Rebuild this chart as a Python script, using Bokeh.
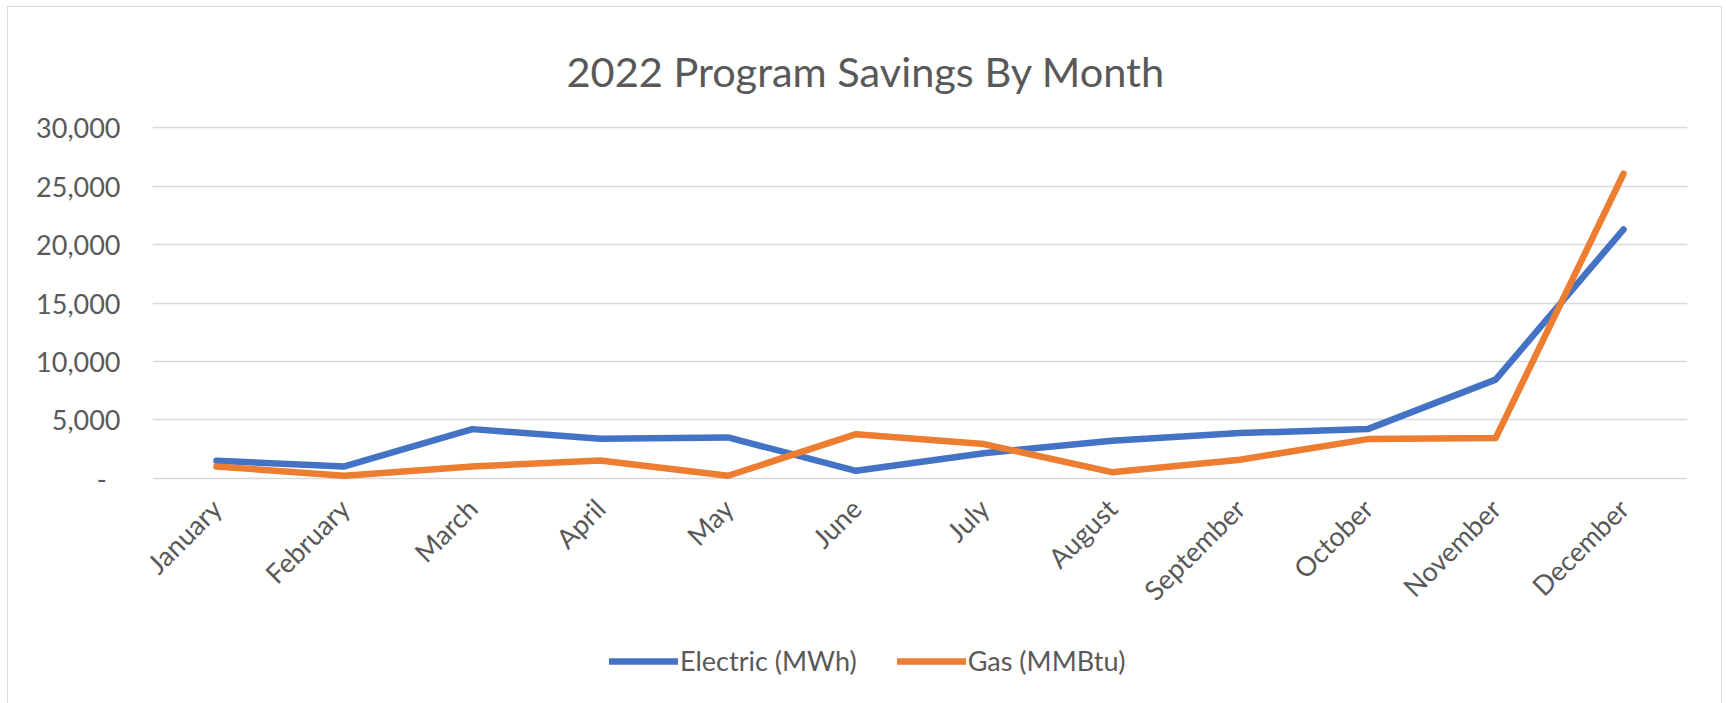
import math
from bokeh.plotting import figure
from bokeh.layouts import column
from bokeh.models import (FactorRange, Range1d, FixedTicker, CustomJSTickFormatter,
                          Legend, LegendItem, Title, ColumnDataSource)
from bokeh.embed import file_html
from bokeh.resources import INLINE

months = ["January", "February", "March", "April", "May", "June", "July",
          "August", "September", "October", "November", "December"]
electric = [1490, 1000, 4200, 3380, 3490, 630, 2140, 3210, 3860, 4200, 8440, 21300]
gas = [1000, 205, 1000, 1520, 205, 3770, 2920, 515, 1580, 3345, 3430, 26070]
y_ticks = [0, 5000, 10000, 15000, 20000, 25000, 30000]
title_text = "2022 Program Savings By Month"
series_names = ["Electric (MWh)", "Gas (MMBtu)"]
colors = ["#4472C4", "#ED7D31"]

FONT = "Lato"
TXT = "#595959"

src = ColumnDataSource(dict(month=months, electric=electric, gas=gas))

# ---------------- main chart ----------------
p = figure(x_range=FactorRange(factors=months), y_range=Range1d(-200, 30200),
           width=1713, height=632, output_backend="svg", toolbar_location=None,
           min_border_left=144, min_border_right=34, min_border_top=118,
           min_border_bottom=159)
p.outline_line_color = None
p.background_fill_color = "white"
p.border_fill_color = "white"

p.title = Title(text=title_text, align="left", offset=414, standoff=59,
                text_font=FONT, text_font_size="41.5px", text_color=TXT,
                text_font_style="normal")

p.xgrid.grid_line_color = None
p.ygrid.grid_line_color = "#D9D9D9"
p.ygrid.grid_line_width = 1.5
p.yaxis.ticker = FixedTicker(ticks=y_ticks)
p.yaxis.formatter = CustomJSTickFormatter(code="""
    if (tick == 0) { return "-\\u00a0\\u00a0"; }
    return tick.toLocaleString('en-US');
""")

for ax in (p.xaxis, p.yaxis):
    ax.axis_line_color = None
    ax.major_tick_line_color = None
    ax.minor_tick_line_color = None
    ax.major_label_text_font = FONT
    ax.major_label_text_font_size = "27px"
    ax.major_label_text_color = TXT

p.yaxis.major_label_standoff = 26
p.xaxis.major_label_orientation = math.pi / 4
p.xaxis.major_label_standoff = 17

p.line("month", "electric", source=src, line_color=colors[0], line_width=6.5,
       line_cap="round", line_join="round")
p.line("month", "gas", source=src, line_color=colors[1], line_width=6.5,
       line_cap="round", line_join="round")

# ---------------- legend strip below ----------------
lg = figure(x_range=p.x_range, y_range=p.y_range, width=1713, height=65,
            output_backend="svg", toolbar_location=None,
            x_axis_type=None, y_axis_type=None)
lg.min_border = 0
lg.outline_line_color = None
lg.xgrid.grid_line_color = None
lg.ygrid.grid_line_color = None
l1 = lg.line("month", "electric", source=src, line_color=colors[0], line_width=6.5,
             line_cap="round")
l2 = lg.line("month", "gas", source=src, line_color=colors[1], line_width=6.5,
             line_cap="round")
l1.visible = False
l2.visible = False

legend = Legend(items=[LegendItem(label=series_names[0], renderers=[l1]),
                       LegendItem(label=series_names[1], renderers=[l2])],
                location=(457, 27), orientation="horizontal")
legend.label_text_font = FONT
legend.label_text_font_size = "27px"
legend.label_text_color = TXT
legend.glyph_width = 69
legend.glyph_height = 24
legend.label_standoff = 2
legend.spacing = 40
legend.padding = 0
legend.margin = 0
legend.border_line_alpha = 0
legend.background_fill_alpha = 0
lg.add_layout(legend, "center")

layout = column(p, lg, spacing=0)
layout.styles = {"border": "1px solid #D9D9D9", "margin-left": "7px", "margin-top": "6px"}

open("out.html", "w").write(file_html(layout, INLINE))
